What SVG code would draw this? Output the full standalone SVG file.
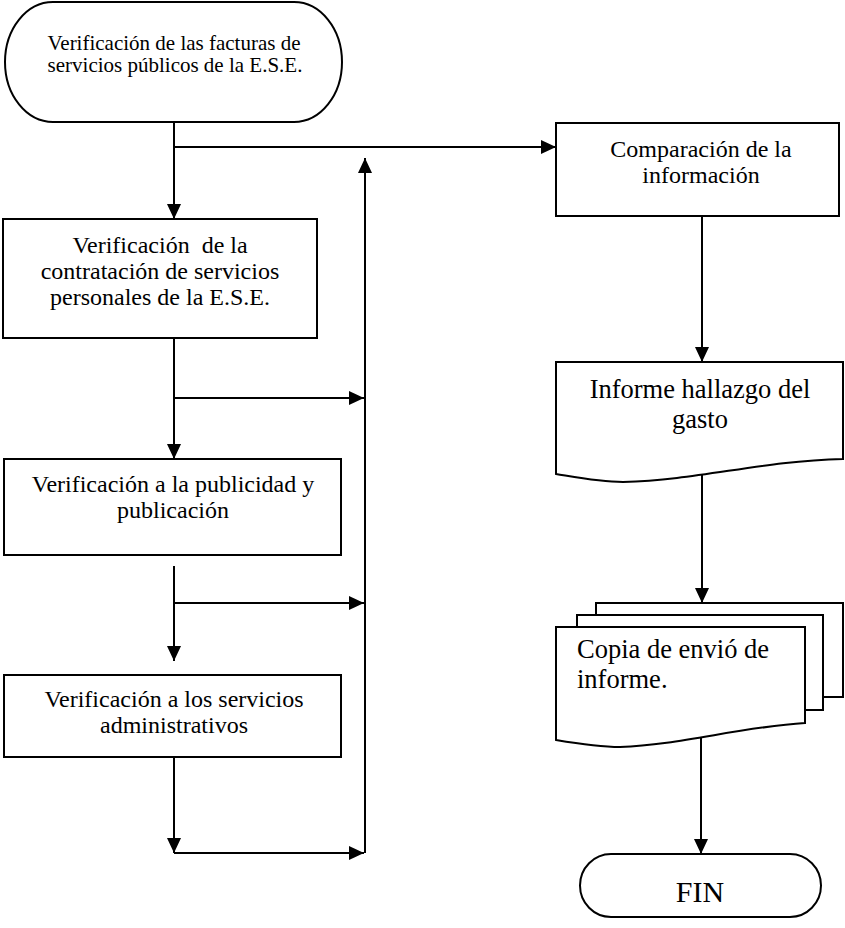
<svg xmlns="http://www.w3.org/2000/svg" width="845" height="928" viewBox="0 0 845 928">
<style>
.shape{fill:#fff;stroke:#000;stroke-width:2}
.t{font-family:"Liberation Serif","Times New Roman",serif;fill:#000;text-anchor:middle}
.conn path{fill:none;stroke:#000;stroke-width:2}
</style>
<defs>
<marker id="arr" markerUnits="userSpaceOnUse" markerWidth="15" markerHeight="14" refX="15" refY="7" orient="auto">
<path d="M0,0 L15,7 L0,14 Z" fill="#000"/>
</marker>
</defs>
<rect width="845" height="928" fill="#fff"/>

<g id="connectors" class="conn">
<path d="M174,122 V219" marker-end="url(#arr)"/>
<path d="M174,147 H556" marker-end="url(#arr)"/>
<path d="M174,338 V459" marker-end="url(#arr)"/>
<path d="M174,398 H364" marker-end="url(#arr)"/>
<path d="M174,566 V661" marker-end="url(#arr)"/>
<path d="M174,603 H364" marker-end="url(#arr)"/>
<path d="M174,757 V853" marker-end="url(#arr)"/>
<path d="M174,853 H364" marker-end="url(#arr)"/>
<path d="M365,853 V158" marker-end="url(#arr)"/>
<path d="M702,216 V362" marker-end="url(#arr)"/>
<path d="M702,472 V603" marker-end="url(#arr)"/>
<path d="M701,733 V854" marker-end="url(#arr)"/>
</g>

<g id="inicio">
<rect class="shape" x="5" y="2" width="337" height="120" rx="48" ry="60"/>
<text class="t" font-size="21"><tspan x="174" y="50">Verificación de las facturas de</tspan><tspan x="175" y="72">servicios públicos de la E.S.E.</tspan></text>
</g>

<g id="contratacion">
<rect class="shape" x="3" y="219" width="314" height="119"/>
<text class="t" font-size="24" xml:space="preserve"><tspan x="160" y="253">Verificación  de la</tspan><tspan x="160" y="279">contratación de servicios</tspan><tspan x="160" y="305">personales de la E.S.E.</tspan></text>
</g>

<g id="publicidad">
<rect class="shape" x="4" y="459" width="337" height="96"/>
<text class="t" font-size="24"><tspan x="173" y="492">Verificación a la publicidad y</tspan><tspan x="173" y="518">publicación</tspan></text>
</g>

<g id="administrativos">
<rect class="shape" x="4" y="675" width="337" height="82"/>
<text class="t" font-size="24"><tspan x="174" y="707">Verificación a los servicios</tspan><tspan x="174" y="733">administrativos</tspan></text>
</g>

<g id="comparacion">
<rect class="shape" x="556" y="123" width="283" height="93"/>
<text class="t" font-size="24"><tspan x="701" y="157">Comparación de la</tspan><tspan x="701" y="183">información</tspan></text>
</g>

<g id="informe">
<path class="shape" d="M556,362 H843 V459 C760,461 700,480 623,482 C600,482 580,478 556,474 Z"/>
<text class="t" font-size="26.5"><tspan x="700" y="398">Informe hallazgo del</tspan><tspan x="700" y="428">gasto</tspan></text>
</g>

<g id="copia">
<rect class="shape" x="596" y="603" width="247" height="94"/>
<rect class="shape" x="577" y="615" width="246" height="95"/>
<path class="shape" d="M556,627 H805 V723 C740,727 680,745 620,747 C600,747 580,744 556,740 Z"/>
<text class="t" font-size="26.5" style="text-anchor:start"><tspan x="577" y="658">Copia de envió de</tspan><tspan x="577" y="688">informe.</tspan></text>
</g>

<g id="fin">
<rect class="shape" x="580" y="854" width="241" height="63" rx="31" ry="31.5"/>
<text class="t" font-size="30" x="700" y="902">FIN</text>
</g>
</svg>
